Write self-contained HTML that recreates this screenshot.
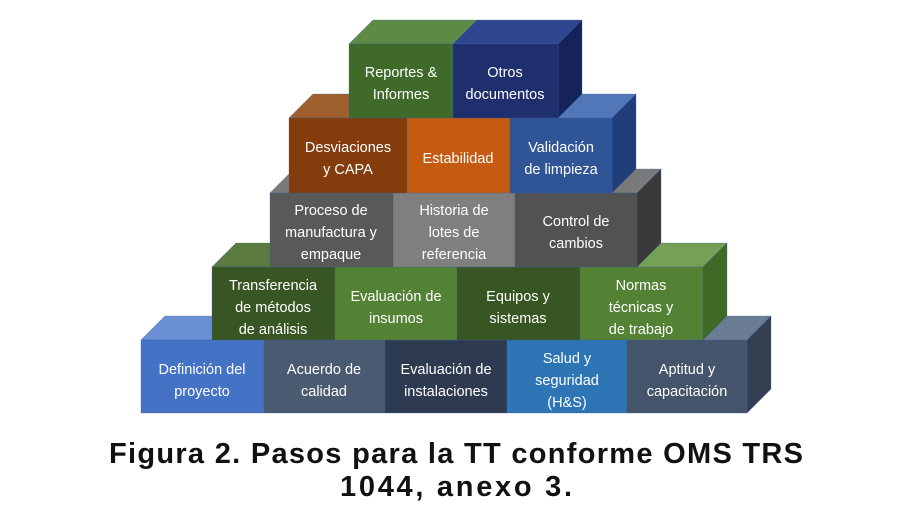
<!DOCTYPE html>
<html><head><meta charset="utf-8"><style>
html,body{margin:0;padding:0;background:#fff;width:920px;height:518px;overflow:hidden}
svg{display:block}
.t{font-family:"Liberation Sans",sans-serif;font-size:14.5px;fill:#fff;text-anchor:middle}
.c{font-family:"Liberation Sans",sans-serif;font-weight:bold;font-size:29px;fill:#111;text-anchor:middle}
</style></head><body>
<svg width="920" height="518" viewBox="0 0 920 518" xmlns="http://www.w3.org/2000/svg">
<g stroke="#3b5f9a" stroke-width="0.6" stroke-opacity="0.5">
<polygon points="141,340 264,340 288,316 165,316" fill="#6a8fd4"/>
<rect x="141" y="340" width="123" height="73" fill="#4472c4"/>
<polygon points="264,340 385,340 409,316 288,316" fill="#6a7a90"/>
<rect x="264" y="340" width="121" height="73" fill="#4a5a70"/>
<polygon points="385,340 507,340 531,316 409,316" fill="#4a5670"/>
<rect x="385" y="340" width="122" height="73" fill="#2e3a50"/>
<polygon points="507,340 627,340 651,316 531,316" fill="#5a95cc"/>
<rect x="507" y="340" width="120" height="73" fill="#2e75b6"/>
<polygon points="627,340 747,340 771,316 651,316" fill="#6b7d95"/>
<polygon points="747,340 771,316 771,389 747,413" fill="#333f50"/>
<rect x="627" y="340" width="120" height="73" fill="#44546a"/>
<polygon points="212,267 335,267 359,243 236,243" fill="#5a7a40"/>
<rect x="212" y="267" width="123" height="73" fill="#375623"/>
<polygon points="335,267 457,267 481,243 359,243" fill="#6f9a4f"/>
<rect x="335" y="267" width="122" height="73" fill="#548235"/>
<polygon points="457,267 580,267 604,243 481,243" fill="#5a7a40"/>
<rect x="457" y="267" width="123" height="73" fill="#375623"/>
<polygon points="580,267 703,267 727,243 604,243" fill="#76a055"/>
<polygon points="703,267 727,243 727,316 703,340" fill="#3f6a25"/>
<rect x="580" y="267" width="123" height="73" fill="#548235"/>
<polygon points="270,193 393,193 417,169 294,169" fill="#7a7a7a"/>
<rect x="270" y="193" width="123" height="74" fill="#595959"/>
<polygon points="393,193 515,193 539,169 417,169" fill="#999"/>
<rect x="393" y="193" width="122" height="74" fill="#7f7f7f"/>
<polygon points="515,193 637,193 661,169 539,169" fill="#7a7a7a"/>
<polygon points="637,193 661,169 661,243 637,267" fill="#3a3a3a"/>
<rect x="515" y="193" width="122" height="74" fill="#525252"/>
<polygon points="289,118 407,118 431,94 313,94" fill="#a0602e"/>
<rect x="289" y="118" width="118" height="75" fill="#843c0c"/>
<polygon points="407,118 510,118 534,94 431,94" fill="#d8773a"/>
<rect x="407" y="118" width="103" height="75" fill="#c55a11"/>
<polygon points="510,118 612,118 636,94 534,94" fill="#5277b8"/>
<polygon points="612,118 636,94 636,169 612,193" fill="#203f7a"/>
<rect x="510" y="118" width="102" height="75" fill="#2f5597"/>
<polygon points="349,44 453,44 477,20 373,20" fill="#5d8a45"/>
<rect x="349" y="44" width="104" height="74" fill="#3f6a2a"/>
<polygon points="453,44 558,44 582,20 477,20" fill="#2f4590"/>
<polygon points="558,44 582,20 582,94 558,118" fill="#16225a"/>
<rect x="453" y="44" width="105" height="74" fill="#1f2f6e"/>
</g>
<text class="t" x="401" y="77">Reportes &amp;</text>
<text class="t" x="401" y="99">Informes</text>
<text class="t" x="505" y="77">Otros</text>
<text class="t" x="505" y="99">documentos</text>
<text class="t" x="348" y="152">Desviaciones</text>
<text class="t" x="348" y="174">y CAPA</text>
<text class="t" x="458" y="163">Estabilidad</text>
<text class="t" x="561" y="152">Validación</text>
<text class="t" x="561" y="174">de limpieza</text>
<text class="t" x="331" y="215">Proceso de</text>
<text class="t" x="331" y="237">manufactura y</text>
<text class="t" x="331" y="259">empaque</text>
<text class="t" x="454" y="215">Historia de</text>
<text class="t" x="454" y="237">lotes de</text>
<text class="t" x="454" y="259">referencia</text>
<text class="t" x="576" y="226">Control de</text>
<text class="t" x="576" y="248">cambios</text>
<text class="t" x="273" y="290">Transferencia</text>
<text class="t" x="273" y="312">de métodos</text>
<text class="t" x="273" y="334">de análisis</text>
<text class="t" x="396" y="301">Evaluación de</text>
<text class="t" x="396" y="323">insumos</text>
<text class="t" x="518" y="301">Equipos  y</text>
<text class="t" x="518" y="323">sistemas</text>
<text class="t" x="641" y="290">Normas</text>
<text class="t" x="641" y="312">técnicas y</text>
<text class="t" x="641" y="334">de trabajo</text>
<text class="t" x="202" y="374">Definición del</text>
<text class="t" x="202" y="396">proyecto</text>
<text class="t" x="324" y="374">Acuerdo de</text>
<text class="t" x="324" y="396">calidad</text>
<text class="t" x="446" y="374">Evaluación de</text>
<text class="t" x="446" y="396">instalaciones</text>
<text class="t" x="567" y="363">Salud y</text>
<text class="t" x="567" y="385">seguridad</text>
<text class="t" x="567" y="407">(H&amp;S)</text>
<text class="t" x="687" y="374">Aptitud y</text>
<text class="t" x="687" y="396">capacitación</text>
<text class="c" x="456" y="463" textLength="694" lengthAdjust="spacing">Figura 2. Pasos para la TT conforme OMS TRS</text>
<text class="c" x="456" y="496" textLength="232" lengthAdjust="spacing">1044, anexo 3.</text>
</svg>
</body></html>
